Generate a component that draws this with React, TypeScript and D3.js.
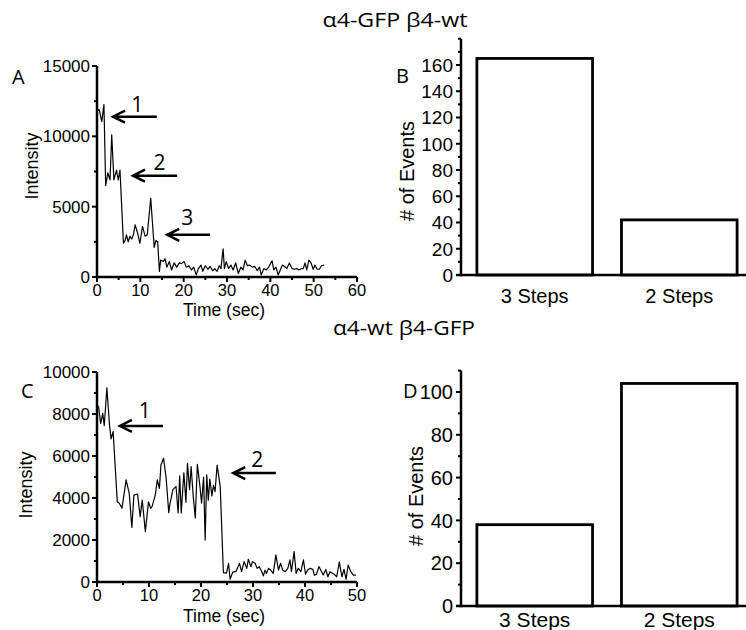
import React from 'react';
import * as d3 from 'd3';

const W = 746;
const H = 630;

// ---------- DATA ----------
// Panel A trace: [time (sec), intensity]
const traceA: [number, number][] = [
  [0.0, 11800], [0.5, 11900], [1.1, 11050], [1.6, 12250], [2.0, 6500], [2.5, 7400], [3.0, 6900],
  [3.4, 10100], [3.9, 6900], [4.5, 7600], [4.9, 6900], [5.3, 7600], [6.1, 2400], [6.5, 2600],
  [6.8, 3000], [7.2, 2500], [7.6, 2900], [8.0, 2700], [8.4, 3000], [8.8, 3700], [9.3, 3200],
  [9.9, 2400], [10.5, 3600], [11.1, 2900], [11.6, 3000], [12.4, 5600], [13.2, 2100], [13.6, 2600],
  [14.0, 2500], [14.4, 400], [14.7, 1200], [15.3, 1100], [15.7, 1300], [16.1, 700], [16.7, 1100],
  [17.2, 500], [17.8, 1000], [18.4, 700], [19.0, 1000], [19.5, 950], [20.1, 1100], [20.6, 700],
  [21.2, 800], [21.8, 500], [22.3, 700], [22.9, 150], [23.4, 600], [24.0, 850], [24.4, 400],
  [25.0, 800], [25.6, 550], [26.1, 750], [26.7, 450], [27.2, 600], [27.7, 400], [28.2, 800],
  [28.6, 600], [29.1, 2000], [29.4, 600], [29.8, 1100], [30.4, 600], [30.9, 850], [31.4, 500],
  [32.0, 1000], [32.6, 250], [33.2, 700], [33.7, 500], [34.2, 1200], [34.7, 800], [35.2, 850],
  [35.8, 700], [36.4, 750], [37.0, 450], [37.5, 700], [37.9, 150], [38.5, 600], [39.1, 500],
  [39.6, 700], [40.4, 1150], [40.8, 500], [41.3, 700], [41.8, 150], [42.3, 500], [42.8, 850],
  [43.3, 750], [43.8, 600], [44.4, 1000], [45.0, 600], [45.6, 550], [46.1, 600], [46.6, 500],
  [47.2, 600], [47.6, 600], [48.0, 1000], [48.4, 500], [48.9, 1200], [49.4, 1000], [49.9, 550],
  [50.3, 850], [50.8, 550], [51.3, 550], [51.8, 800], [52.4, 850],
];

// Panel C trace: [time (sec), intensity]
const traceC: [number, number][] = [
  [0.0, 8400], [0.3, 8350], [0.7, 7550], [1.1, 8030], [1.4, 7450], [1.9, 9250], [2.4, 7480],
  [2.7, 6820], [3.1, 7160], [3.9, 3820], [4.3, 3750], [4.8, 3510], [5.6, 4860], [6.2, 4220],
  [6.7, 2600], [7.1, 4140], [7.8, 4190], [8.3, 3110], [8.7, 3900], [9.3, 2400], [9.9, 3820],
  [10.3, 3510], [10.6, 3600], [11.2, 4140], [11.6, 4860], [12.0, 4460], [12.3, 5570], [12.8, 5890],
  [13.3, 4940], [13.8, 3300], [14.0, 3680], [14.6, 4400], [15.2, 4550], [15.6, 3290], [15.9, 5050],
  [16.2, 3290], [16.7, 5200], [17.1, 3800], [17.4, 5650], [17.8, 4400], [18.1, 5500], [18.5, 4080],
  [18.9, 3050], [19.3, 5600], [19.8, 4550], [20.1, 3760], [20.5, 5000], [20.8, 2000], [21.1, 5100],
  [21.4, 3900], [21.7, 4900], [22.1, 4100], [22.4, 4600], [22.7, 4300], [23.1, 5570], [23.7, 4540],
  [24.3, 450], [24.9, 420], [25.3, 890], [25.6, 130], [26.1, 470], [26.7, 490], [27.4, 890],
  [27.8, 490], [28.3, 970], [28.8, 650], [29.1, 1080], [29.6, 730], [29.9, 970], [30.4, 890],
  [30.8, 650], [31.2, 730], [31.7, 490], [32.0, 290], [32.3, 570], [32.6, 410], [33.0, 650],
  [33.4, 570], [33.9, 410], [34.4, 1290], [34.9, 570], [35.3, 890], [35.7, 570], [36.2, 490],
  [36.7, 650], [37.1, 1050], [37.4, 490], [37.9, 1450], [38.3, 410], [38.7, 650], [39.2, 490],
  [39.7, 1050], [40.1, 370], [40.5, 570], [41.0, 650], [41.5, 600], [41.8, 330], [42.2, 370],
  [42.7, 730], [43.2, 490], [43.5, 330], [44.0, 600], [44.4, 250], [44.8, 490], [45.1, 440],
  [45.6, 370], [46.1, 250], [46.6, 950], [47.1, 250], [47.5, 600], [47.9, 130], [48.3, 810],
  [48.8, 490], [49.3, 330], [49.8, 330],
];

const categories = ['3 Steps', '2 Steps'];
const eventsB = [165, 42];
const eventsD = [38, 104];

const titleTop = 'α4-GFP β4-wt';
const titleBottom = 'α4-wt β4-GFP';

// Ticks
const ticksAX = [0, 10, 20, 30, 40, 50, 60];
const minorAX = [5, 15, 25, 35, 45, 55];
const ticksAY = [0, 5000, 10000, 15000];
const minorAY = [2500, 7500, 12500];
const ticksCX = [0, 10, 20, 30, 40, 50];
const minorCX = [5, 15, 25, 35, 45];
const ticksCY = [0, 2000, 4000, 6000, 8000, 10000];
const minorCY = [1000, 3000, 5000, 7000, 9000];
const ticksBY = [0, 20, 40, 60, 80, 100, 120, 140, 160];
const minorBY = [10, 30, 50, 70, 90, 110, 130, 150, 170, 180];
const ticksDY = [0, 20, 40, 60, 80, 100];
const minorDY = [10, 30, 50, 70, 90, 110];

// Step annotations (in data coordinates): arrow head time, tail time, intensity level
const arrowsA = [
  { label: '1', head: 3.7, tail: 13.8, value: 11400, labelT: 9.3, dy: -5 },
  { label: '2', head: 8.3, tail: 18.5, value: 7200, labelT: 14.4, dy: -6 },
  { label: '3', head: 16.2, tail: 26.1, value: 3000, labelT: 20.8, dy: -10 },
];
const arrowsC = [
  { label: '1', head: 4.4, tail: 12.7, value: 7430, labelT: 9.2, dy: -8 },
  { label: '2', head: 26.2, tail: 34.4, value: 5190, labelT: 30.8, dy: -6 },
];

// ---------- STYLE ----------
const NUM = "'Liberation Sans', Arial, sans-serif";
const CAL = "'Open Sans', 'Noto Sans', sans-serif";
const AX_W = 2.5;

type Arrow = { label: string; head: number; tail: number; value: number; labelT: number; dy: number };

function TracePanel(props: {
  data: [number, number][];
  xDomain: [number, number];
  yDomain: [number, number];
  xRange: [number, number];
  yRange: [number, number];
  xTicks: number[];
  xMinor: number[];
  yTicks: number[];
  yMinor: number[];
  arrows: Arrow[];
  letter: string;
  letterX: number;
  letterY: number;
  yLabelX: number;
  yLabelY: number;
  xLabelY: number;
}) {
  const x = d3.scaleLinear().domain(props.xDomain).range(props.xRange);
  const y = d3.scaleLinear().domain(props.yDomain).range(props.yRange);
  const line = d3.line<[number, number]>().x((d) => x(d[0])).y((d) => y(d[1]));
  const x0 = props.xRange[0];
  const y0 = props.yRange[0];
  return (
    <g>
      <path d={line(props.data) || ''} fill="none" stroke="#000" strokeWidth={1.2} strokeLinejoin="round" />
      {/* axes */}
      <line x1={x0} x2={x0} y1={y0 + AX_W / 2} y2={props.yRange[1]} stroke="#000" strokeWidth={AX_W} />
      <line x1={x0 - AX_W / 2} x2={props.xRange[1]} y1={y0} y2={y0} stroke="#000" strokeWidth={AX_W} />
      {props.yTicks.map((t) => (
        <g key={'yt' + t}>
          <line x1={x0 - 5} x2={x0} y1={y(t)} y2={y(t)} stroke="#000" strokeWidth={2} />
          <text x={x0 - 7} y={y(t)} dy="0.36em" textAnchor="end" fontFamily={NUM} fontSize={17}>
            {t}
          </text>
        </g>
      ))}
      {props.yMinor.map((t) => (
        <line key={'ym' + t} x1={x0 - 3} x2={x0} y1={y(t)} y2={y(t)} stroke="#000" strokeWidth={2} />
      ))}
      {props.xTicks.map((t) => (
        <g key={'xt' + t}>
          <line x1={x(t)} x2={x(t)} y1={y0} y2={y0 + 5} stroke="#000" strokeWidth={2} />
          <text x={x(t)} y={y0 + 19} textAnchor="middle" fontFamily={NUM} fontSize={16.5}>
            {t}
          </text>
        </g>
      ))}
      {props.xMinor.map((t) => (
        <line key={'xm' + t} x1={x(t)} x2={x(t)} y1={y0} y2={y0 + 3} stroke="#000" strokeWidth={2} />
      ))}
      <text
        transform={`translate(${props.yLabelX},${props.yLabelY}) rotate(-90)`}
        textAnchor="middle"
        fontFamily={NUM}
        fontSize={18}
      >
        Intensity
      </text>
      <text x={(props.xRange[0] + props.xRange[1]) / 2 - 3} y={props.xLabelY} textAnchor="middle" fontFamily={NUM} fontSize={17.5}>
        Time (sec)
      </text>
      <text x={props.letterX} y={props.letterY} fontFamily={CAL} fontSize={20}>
        {props.letter}
      </text>
      {props.arrows.map((a) => {
        const hx = x(a.head);
        const tx = x(a.tail);
        const ay = y(a.value);
        return (
          <g key={'ar' + a.label}>
            <path
              d={`M${tx},${ay}L${hx},${ay}M${hx + 12},${ay - 6}L${hx},${ay}L${hx + 12},${ay + 6}`}
              fill="none"
              stroke="#000"
              strokeWidth={2.5}
            />
            <text x={x(a.labelT)} y={ay + a.dy} textAnchor="middle" fontFamily={CAL} fontSize={21}>
              {a.label}
            </text>
          </g>
        );
      })}
    </g>
  );
}

function BarPanel(props: {
  values: number[];
  yDomain: [number, number];
  yRange: [number, number];
  yTicks: number[];
  yMinor: number[];
  letter: string;
  letterX: number;
  letterY: number;
  yLabelX: number;
  yLabelY: number;
  catY: number;
  tickSize: number;
  catSize: number;
}) {
  const x = d3.scaleBand<string>().domain(categories).range([461, 753]).paddingInner(0.2).paddingOuter(0.11);
  const y = d3.scaleLinear().domain(props.yDomain).range(props.yRange);
  const x0 = 461;
  const y0 = props.yRange[0];
  return (
    <g>
      {categories.map((c, i) => (
        <rect
          key={c}
          x={x(c)}
          y={y(props.values[i])}
          width={x.bandwidth()}
          height={y0 - y(props.values[i])}
          fill="#fff"
          stroke="#000"
          strokeWidth={2.8}
        />
      ))}
      <line x1={x0} x2={x0} y1={y0 + AX_W / 2} y2={props.yRange[1]} stroke="#000" strokeWidth={AX_W} />
      <line x1={x0 - 5} x2={W + 5} y1={y0} y2={y0} stroke="#000" strokeWidth={AX_W} />
      {props.yTicks.map((t) => (
        <g key={'yt' + t}>
          <line x1={x0 - 5} x2={x0} y1={y(t)} y2={y(t)} stroke="#000" strokeWidth={2} />
          <text x={x0 - 8} y={y(t)} dy="0.36em" textAnchor="end" fontFamily={NUM} fontSize={props.tickSize}>
            {t}
          </text>
        </g>
      ))}
      {props.yMinor.map((t) => (
        <line key={'ym' + t} x1={x0 - 3} x2={x0} y1={y(t)} y2={y(t)} stroke="#000" strokeWidth={2} />
      ))}
      {categories.map((c) => (
        <text key={'c' + c} x={(x(c) || 0) + x.bandwidth() / 2} y={props.catY} textAnchor="middle" fontFamily={NUM} fontSize={props.catSize}>
          {c}
        </text>
      ))}
      <text
        transform={`translate(${props.yLabelX},${props.yLabelY}) rotate(-90)`}
        textAnchor="middle"
        fontFamily={NUM}
        fontSize={20}
      >
        # of Events
      </text>
      <text x={props.letterX} y={props.letterY} fontFamily={CAL} fontSize={20}>
        {props.letter}
      </text>
    </g>
  );
}

export default function App() {
  return (
    <svg
      width={W}
      height={H}
      viewBox={`0 0 ${W} ${H}`}
      style={{ position: 'absolute', left: 0, top: 0, background: '#fff' }}
    >
      <rect x={0} y={0} width={W} height={H} fill="#fff" />
      <text x={395} y={27} textAnchor="middle" fontFamily={CAL} fontSize={20} textLength={145} lengthAdjust="spacingAndGlyphs">
        {titleTop}
      </text>
      <text x={404} y={335} textAnchor="middle" fontFamily={CAL} fontSize={20} textLength={142} lengthAdjust="spacingAndGlyphs">
        {titleBottom}
      </text>
      <TracePanel
        data={traceA}
        xDomain={[0, 60]}
        yDomain={[0, 15000]}
        xRange={[97, 357]}
        yRange={[277, 66]}
        xTicks={ticksAX}
        xMinor={minorAX}
        yTicks={ticksAY}
        yMinor={minorAY}
        arrows={arrowsA}
        letter="A"
        letterX={12}
        letterY={84}
        yLabelX={38}
        yLabelY={166}
        xLabelY={316}
      />
      <TracePanel
        data={traceC}
        xDomain={[0, 50]}
        yDomain={[0, 10000]}
        xRange={[97, 357]}
        yRange={[582, 372]}
        xTicks={ticksCX}
        xMinor={minorCX}
        yTicks={ticksCY}
        yMinor={minorCY}
        arrows={arrowsC}
        letter="C"
        letterX={21}
        letterY={398}
        yLabelX={32}
        yLabelY={485}
        xLabelY={622}
      />
      <BarPanel
        values={eventsB}
        yDomain={[0, 180]}
        yRange={[275, 38.75]}
        yTicks={ticksBY}
        yMinor={minorBY}
        letter="B"
        letterX={396}
        letterY={83}
        yLabelX={414}
        yLabelY={171}
        catY={303}
        tickSize={19}
        catSize={20}
      />
      <BarPanel
        values={eventsD}
        yDomain={[0, 110]}
        yRange={[606, 370.6]}
        yTicks={ticksDY}
        yMinor={minorDY}
        letter="D"
        letterX={403}
        letterY={398}
        yLabelX={423}
        yLabelY={496}
        catY={627}
        tickSize={20}
        catSize={21}
      />
    </svg>
  );
}
